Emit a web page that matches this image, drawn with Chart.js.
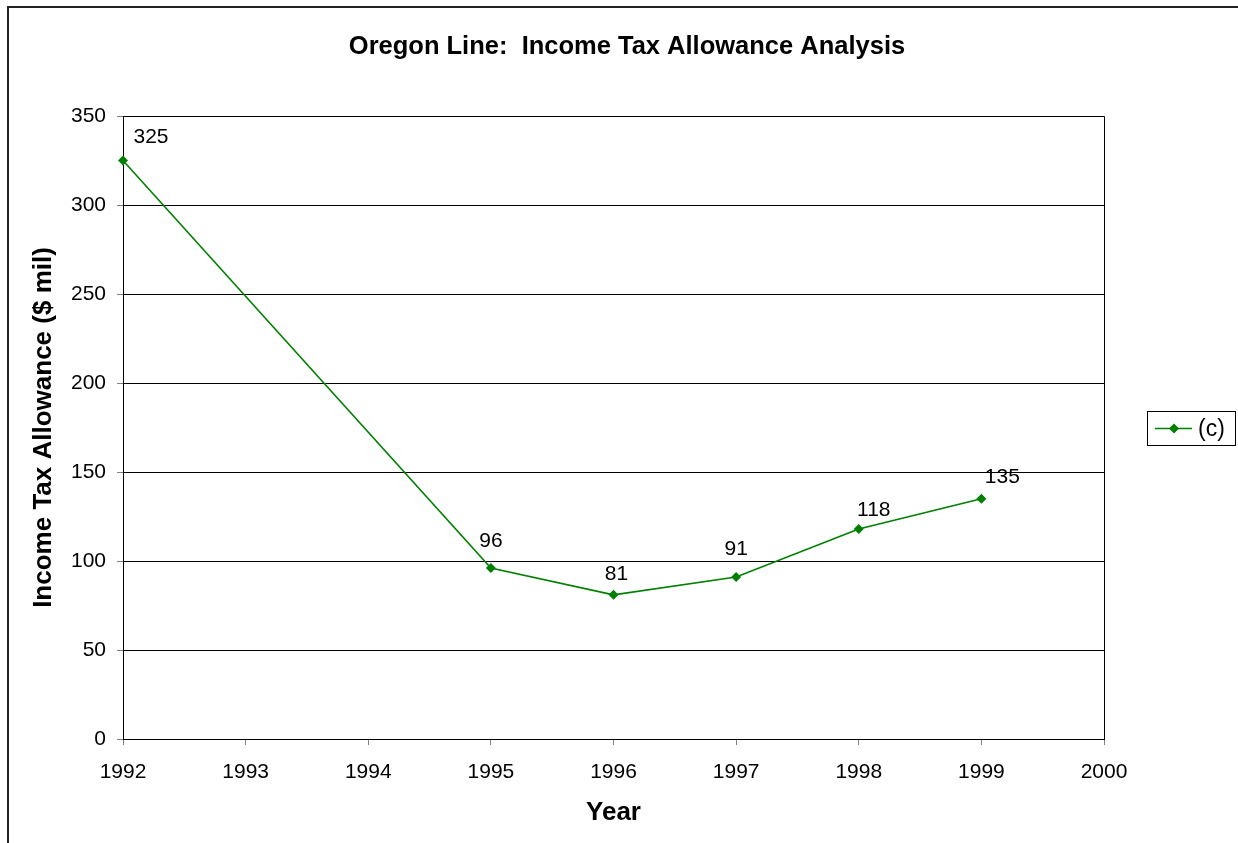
<!DOCTYPE html>
<html>
<head>
<meta charset="utf-8">
<script src="https://cdn.jsdelivr.net/npm/chart.js@4/dist/chart.umd.min.js"></script>
<style>
  html, body { margin: 0; padding: 0; background: #fff; }
  #wrap { width: 1238px; height: 843px; }
</style>
</head>
<body>
<div id="wrap"><canvas id="c" width="1238" height="843"></canvas></div>
<script>
// Income tax allowance, Oregon Line ($ million)
const years = [1992, 1995, 1996, 1997, 1998, 1999];
const allowance = [325, 96, 81, 91, 118, 135];
const seriesName = '(c)';
const xTicks = [1992, 1993, 1994, 1995, 1996, 1997, 1998, 1999, 2000];
const yTicks = [0, 50, 100, 150, 200, 250, 300, 350];

const GREEN = '#008000';
const FONT = '"Liberation Sans", Arial, sans-serif';

// Frame, title, value labels and legend drawn on top of the chart
const decorations = {
  id: 'decorations',
  afterDraw(chart, args, opts) {
    const ctx = chart.ctx;
    const area = chart.chartArea;
    const meta = chart.getDatasetMeta(0);
    ctx.save();

    // outer chart border (left and top edges visible)
    ctx.strokeStyle = '#222';
    ctx.lineWidth = 2;
    ctx.beginPath();
    ctx.moveTo(8, 843);
    ctx.lineTo(8, 7);
    ctx.lineTo(1238, 7);
    ctx.stroke();

    // plot area frame (top and right)
    ctx.strokeStyle = '#000';
    ctx.lineWidth = 1;
    ctx.beginPath();
    ctx.moveTo(Math.round(area.left) + 0.5, Math.round(area.top) + 0.5);
    ctx.lineTo(Math.round(area.right) + 0.5, Math.round(area.top) + 0.5);
    ctx.lineTo(Math.round(area.right) + 0.5, Math.round(area.bottom) + 0.5);
    ctx.stroke();

    // title
    ctx.fillStyle = '#000';
    ctx.font = 'bold 25.5px ' + FONT;
    ctx.textAlign = 'center';
    ctx.textBaseline = 'middle';
    ctx.fillText('Oregon Line:  Income Tax Allowance Analysis', 627, 47);

    // value labels
    ctx.font = '21px ' + FONT;
    meta.data.forEach((pt, i) => {
      const off = opts.labelOffsets[i] || [0, -24];
      ctx.fillText(String(allowance[i]), pt.x + off[0], pt.y + off[1]);
    });

    // legend
    const lx = 1147, ly = 411, lw = 88, lh = 34;
    ctx.fillStyle = '#fff';
    ctx.fillRect(lx, ly, lw, lh);
    ctx.strokeStyle = '#000';
    ctx.lineWidth = 1;
    ctx.strokeRect(lx + 0.5, ly + 0.5, lw, lh);
    const cy = ly + lh / 2 + 0.5;
    ctx.strokeStyle = GREEN;
    ctx.lineWidth = 1.5;
    ctx.beginPath();
    ctx.moveTo(lx + 8, cy);
    ctx.lineTo(lx + 45, cy);
    ctx.stroke();
    ctx.fillStyle = GREEN;
    ctx.beginPath();
    const dx = lx + 27;
    ctx.moveTo(dx, cy - 5);
    ctx.lineTo(dx + 5, cy);
    ctx.lineTo(dx, cy + 5);
    ctx.lineTo(dx - 5, cy);
    ctx.closePath();
    ctx.fill();
    ctx.fillStyle = '#000';
    ctx.font = '23px ' + FONT;
    ctx.textAlign = 'left';
    ctx.fillText(seriesName, lx + 51, cy + 1);

    ctx.restore();
  }
};

new Chart(document.getElementById('c'), {
  type: 'line',
  data: {
    datasets: [{
      label: seriesName,
      data: years.map((y, i) => ({ x: y, y: allowance[i] })),
      borderColor: GREEN,
      backgroundColor: GREEN,
      borderWidth: 1.6,
      pointStyle: 'rectRot',
      pointRadius: 5,
      pointHoverRadius: 5,
      pointBorderWidth: 0,
      tension: 0,
      clip: false
    }]
  },
  options: {
    responsive: false,
    animation: false,
    events: [],
    layout: { padding: { left: 0, top: 116, right: 134, bottom: 0 } },
    plugins: {
      legend: { display: false },
      title: { display: false },
      tooltip: { enabled: false },
      decorations: {
        labelOffsets: [[28, -23], [0, -27], [3, -21], [0, -28], [15, -19], [21, -21]]
      }
    },
    scales: {
      x: {
        type: 'linear',
        min: 1992,
        max: 2000,
        afterBuildTicks(scale) { scale.ticks = xTicks.map(v => ({ value: v })); },
        afterFit(scale) { scale.height = 104; },
        grid: { drawOnChartArea: false, drawTicks: true, tickLength: 6, tickColor: '#808080' },
        border: { display: true, color: '#000', width: 1 },
        ticks: {
          color: '#000',
          font: { family: FONT, size: 21 },
          padding: 15,
          maxRotation: 0,
          autoSkip: false,
          callback: v => String(v)
        },
        title: {
          display: true,
          text: 'Year',
          color: '#000',
          font: { family: FONT, size: 26, weight: 'bold' },
          padding: { top: 0, bottom: 15 }
        }
      },
      y: {
        type: 'linear',
        min: 0,
        max: 350,
        afterBuildTicks(scale) { scale.ticks = yTicks.map(v => ({ value: v })); },
        afterFit(scale) { scale.width = 123; },
        grid: { color: '#000', lineWidth: 1, drawTicks: true, tickLength: 6, tickColor: '#808080' },
        border: { display: true, color: '#000', width: 1 },
        ticks: {
          color: '#000',
          font: { family: FONT, size: 21 },
          padding: 11,
          autoSkip: false
        },
        title: {
          display: true,
          text: 'Income Tax Allowance ($ mil)',
          color: '#000',
          font: { family: FONT, size: 26, weight: 'bold' },
          padding: { top: 28, bottom: 0 }
        }
      }
    }
  },
  plugins: [decorations]
});
</script>
</body>
</html>
